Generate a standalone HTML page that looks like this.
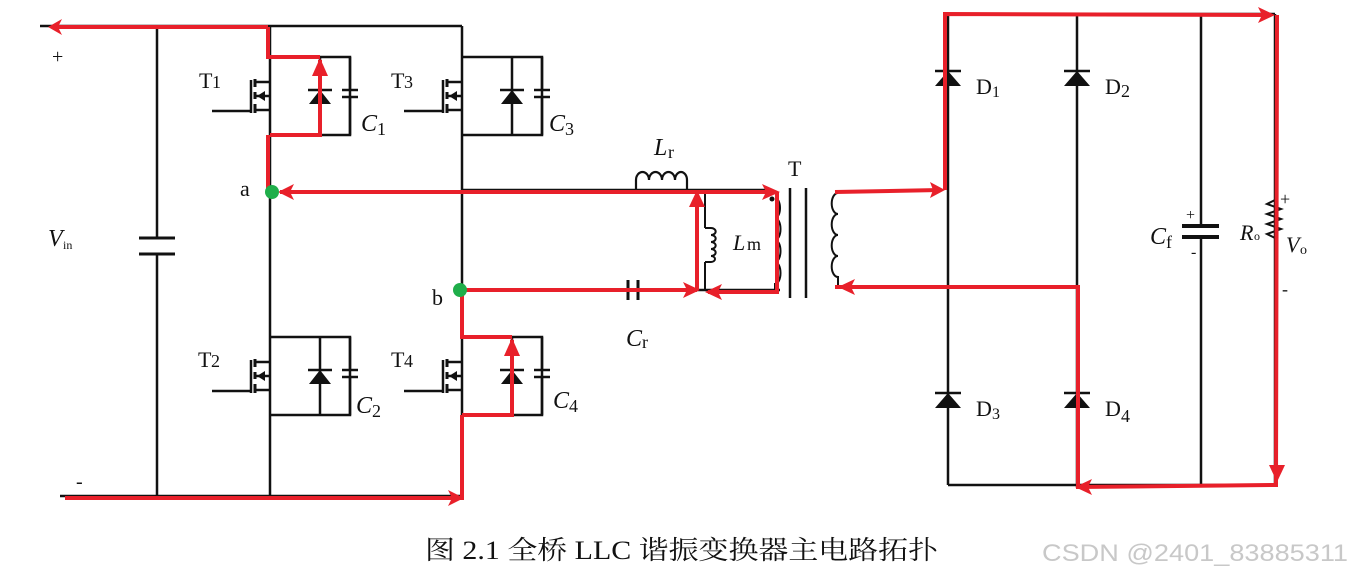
<!DOCTYPE html>
<html><head><meta charset="utf-8"><style>
html,body{margin:0;padding:0;background:#fff;}
svg{display:block;}
text{font-family:"Liberation Serif","Noto Serif CJK SC",serif;fill:#111;}
</style></head><body>
<svg width="1352" height="576" viewBox="0 0 1352 576" xmlns="http://www.w3.org/2000/svg">
<defs>
<g id="cell">
  <path d="M0,0 H80 V78 H0" fill="none" stroke="#111" stroke-width="2.5"/>
  <line x1="50" y1="0" x2="50" y2="78" stroke="#111" stroke-width="2.5"/>
  <polygon points="39,47 61,47 50,33" fill="#111"/>
  <line x1="38" y1="33" x2="62" y2="33" stroke="#111" stroke-width="2.5"/>
  <line x1="80" y1="0" x2="80" y2="32" stroke="#111" stroke-width="2.5"/>
  <line x1="72" y1="33" x2="88" y2="33" stroke="#111" stroke-width="2.5"/>
  <line x1="72" y1="40" x2="88" y2="40" stroke="#111" stroke-width="2.5"/>
  <line x1="80" y1="40" x2="80" y2="78" stroke="#111" stroke-width="2.5"/>
  <line x1="-58" y1="54" x2="-19" y2="54" stroke="#111" stroke-width="2.5"/>
  <line x1="-19" y1="23" x2="-19" y2="56" stroke="#111" stroke-width="2.5"/>
  <line x1="-15" y1="22" x2="-15" y2="30" stroke="#111" stroke-width="3"/>
  <line x1="-15" y1="35" x2="-15" y2="42" stroke="#111" stroke-width="3"/>
  <line x1="-15" y1="47" x2="-15" y2="56" stroke="#111" stroke-width="3"/>
  <line x1="-15" y1="25" x2="0" y2="25" stroke="#111" stroke-width="2.5"/>
  <line x1="-15" y1="39" x2="0" y2="39" stroke="#111" stroke-width="2.5"/>
  <line x1="-15" y1="53" x2="0" y2="53" stroke="#111" stroke-width="2.5"/>
  <polygon points="-13,39 -5,34 -5,44" fill="#111"/>
</g>
<g id="diode">
  <polygon points="-13,8 13,8 0,-7" fill="#111"/>
  <line x1="-13" y1="-7" x2="13" y2="-7" stroke="#111" stroke-width="2.5"/>
</g>
</defs>

<g stroke="#111" stroke-width="2.5" fill="none">
  <line x1="40" y1="26" x2="462" y2="26"/>
  <line x1="60" y1="496" x2="462" y2="496"/>
  <line x1="157" y1="26" x2="157" y2="238"/>
  <line x1="157" y1="254" x2="157" y2="496"/>
  <line x1="139" y1="238" x2="175" y2="238" stroke-width="3"/>
  <line x1="139" y1="254" x2="175" y2="254" stroke-width="3"/>
  <line x1="270" y1="26" x2="270" y2="496"/>
  <line x1="462" y1="26" x2="462" y2="496"/>
  <line x1="462" y1="190" x2="770" y2="190"/>
  <path d="M636,190 V180 a6.5,8 0 0 1 13,0 a6.5,8 0 0 1 13,0 a6.5,8 0 0 1 13,0 a6,8 0 0 1 12,0 V190" stroke-width="2.2"/>
  <path d="M705,192 V228 M705,262 V290 M705,228 h6 a4,3 0 0 1 0,7 a4,3 0 0 1 0,7 a4,3 0 0 1 0,7 a4,3 0 0 1 0,7 a4,3 0 0 1 0,6 h-6" stroke-width="2"/>
  <line x1="462" y1="290" x2="780" y2="290"/>
  <path d="M775,198 a5,10 0 0 1 0,20 a5,10 0 0 1 0,22 a5,10 0 0 1 0,22 a5,10 0 0 1 0,22 V290" stroke-width="2"/>
  <circle cx="772" cy="199" r="2.5" fill="#111" stroke="none"/>
  <line x1="790" y1="188" x2="790" y2="298"/>
  <line x1="806" y1="188" x2="806" y2="298"/>
  <path d="M838,193 a6,10 0 0 0 0,21 a6,10 0 0 0 0,21 a6,10 0 0 0 0,21 a6,10 0 0 0 0,21 V287" stroke-width="2"/>
  <line x1="948" y1="14" x2="1275" y2="14"/>
  <line x1="948" y1="14" x2="948" y2="485"/>
  <line x1="1077" y1="14" x2="1077" y2="485"/>
  <line x1="948" y1="485" x2="1275" y2="485"/>
  <line x1="838" y1="287" x2="1077" y2="287"/>
  <line x1="1201" y1="14" x2="1201" y2="226"/>
  <line x1="1201" y1="238" x2="1201" y2="485"/>
  <line x1="1182" y1="226" x2="1219" y2="226" stroke-width="4"/>
  <line x1="1182" y1="237" x2="1219" y2="237" stroke-width="4"/>
  <line x1="1275" y1="14" x2="1275" y2="485"/>
  <path d="M1275,200 l-8,4 l14,5 l-14,5 l14,5 l-14,5 l14,5 l-14,5 l8,4" stroke-width="2"/>
</g>
<line x1="628" y1="280" x2="628" y2="300" stroke="#111" stroke-width="3"/>
<line x1="638" y1="280" x2="638" y2="300" stroke="#111" stroke-width="3"/>
<rect x="629.5" y="286" width="7" height="8" fill="#fff"/>

<use href="#cell" x="270" y="57"/>
<use href="#cell" x="462" y="57"/>
<use href="#cell" x="270" y="337"/>
<use href="#cell" x="462" y="337"/>
<use href="#diode" x="948" y="78"/>
<use href="#diode" x="1077" y="78"/>
<use href="#diode" x="948" y="400"/>
<use href="#diode" x="1077" y="400"/>

<g stroke="#e8202a" stroke-width="4" fill="none" stroke-linejoin="miter">
  <polyline points="268,135 268,192"/>
  <polyline points="268,27 52,27"/>
  <polyline points="268,27 268,57 320,57"/>
  <polyline points="270,135 320,135 320,60"/>
  <polyline points="280,192 775,192"/>
  <polyline points="462,290 697,290"/>
  <polyline points="697,290 697,195"/>
  <polyline points="777,192 777,292 708,292"/>
  <polyline points="462,290 462,337 512,337"/>
  <polyline points="462,415 512,415 512,340"/>
  <polyline points="462,415 462,498 65,498"/>
  <polyline points="835,192 940,190"/>
  <polyline points="945,190 945,14 1270,15"/>
  <polyline points="835,287 1078,287 1078,487 1276,485 1277,15"/>
</g>
<g fill="#e8202a">
  <polygon points="48,27 62,19 58,27 62,35"/>
  <polygon points="320,58 312,76 328,76"/>
  <polygon points="512,338 504,356 520,356"/>
  <polygon points="278,192 294,184 290,192 294,200"/>
  <polygon points="780,192 762,184 766,192 762,200"/>
  <polygon points="700,290 683,282 687,290 683,298"/>
  <polygon points="697,190 689,207 705,207"/>
  <polygon points="705,292 722,284 718,292 722,300"/>
  <polygon points="464,498 448,490 452,498 448,506"/>
  <polygon points="838,287 855,279 851,287 855,295"/>
  <polygon points="945,190 930,182 933,190 930,198"/>
  <polygon points="1275,15 1258,7 1262,15 1258,23"/>
  <polygon points="1277,482 1269,465 1285,465"/>
  <polygon points="1075,487 1092,479 1088,487 1092,495"/>
</g>
<circle cx="272" cy="192" r="7" fill="#1fae4a"/>
<circle cx="460" cy="290" r="7" fill="#1fae4a"/>

<g font-size="22">
  <text x="52" y="63" font-size="20">+</text>
  <text x="76" y="488" font-size="20">-</text>
  <text x="48" y="246" font-style="italic" font-size="24">V</text><text x="63" y="249" font-size="12">in</text>
  <text x="199" y="88">T</text><text x="212" y="88" font-size="18">1</text>
  <text x="391" y="88">T</text><text x="404" y="88" font-size="18">3</text>
  <text x="198" y="367">T</text><text x="211" y="367" font-size="18">2</text>
  <text x="391" y="367">T</text><text x="404" y="367" font-size="18">4</text>
  <text x="361" y="131" font-style="italic" font-size="24">C</text><text x="377" y="135" font-size="18">1</text>
  <text x="549" y="131" font-style="italic" font-size="24">C</text><text x="565" y="135" font-size="18">3</text>
  <text x="356" y="413" font-style="italic" font-size="24">C</text><text x="372" y="417" font-size="18">2</text>
  <text x="553" y="408" font-style="italic" font-size="24">C</text><text x="569" y="412" font-size="18">4</text>
  <text x="240" y="196">a</text>
  <text x="432" y="305">b</text>
  <text x="654" y="155" font-style="italic" font-size="24">L</text><text x="668" y="158" font-size="18">r</text>
  <text x="733" y="250" font-style="italic" font-size="22">L</text><text x="747" y="250" font-size="18">m</text>
  <text x="788" y="176">T</text>
  <text x="626" y="346" font-style="italic" font-size="24">C</text><text x="642" y="348" font-size="18">r</text>
  <text x="976" y="94">D</text><text x="992" y="97" font-size="16">1</text>
  <text x="1105" y="94">D</text><text x="1121" y="97" font-size="18">2</text>
  <text x="976" y="416">D</text><text x="992" y="419" font-size="16">3</text>
  <text x="1105" y="416">D</text><text x="1121" y="422" font-size="18">4</text>
  <text x="1150" y="244" font-style="italic" font-size="24">C</text><text x="1166" y="248" font-size="18">f</text>
  <text x="1186" y="220" font-size="16">+</text>
  <text x="1191" y="257" font-size="16">-</text>
  <text x="1240" y="240" font-style="italic" font-size="22">R</text><text x="1254" y="240" font-size="12">o</text>
  <text x="1286" y="252" font-style="italic" font-size="22">V</text><text x="1300" y="254" font-size="14">o</text>
  <text x="1280" y="205" font-size="18">+</text>
  <text x="1282" y="295" font-size="18">-</text>
</g>
<text x="425" y="559" font-size="26" textLength="513" lengthAdjust="spacingAndGlyphs">图 2.1  全桥 LLC 谐振变换器主电路拓扑</text>
<text x="1042" y="561" font-size="24" textLength="306" lengthAdjust="spacingAndGlyphs" style="font-family:'Liberation Sans',sans-serif;fill:#c8c8c8">CSDN @2401_83885311</text>
</svg>
</body></html>
